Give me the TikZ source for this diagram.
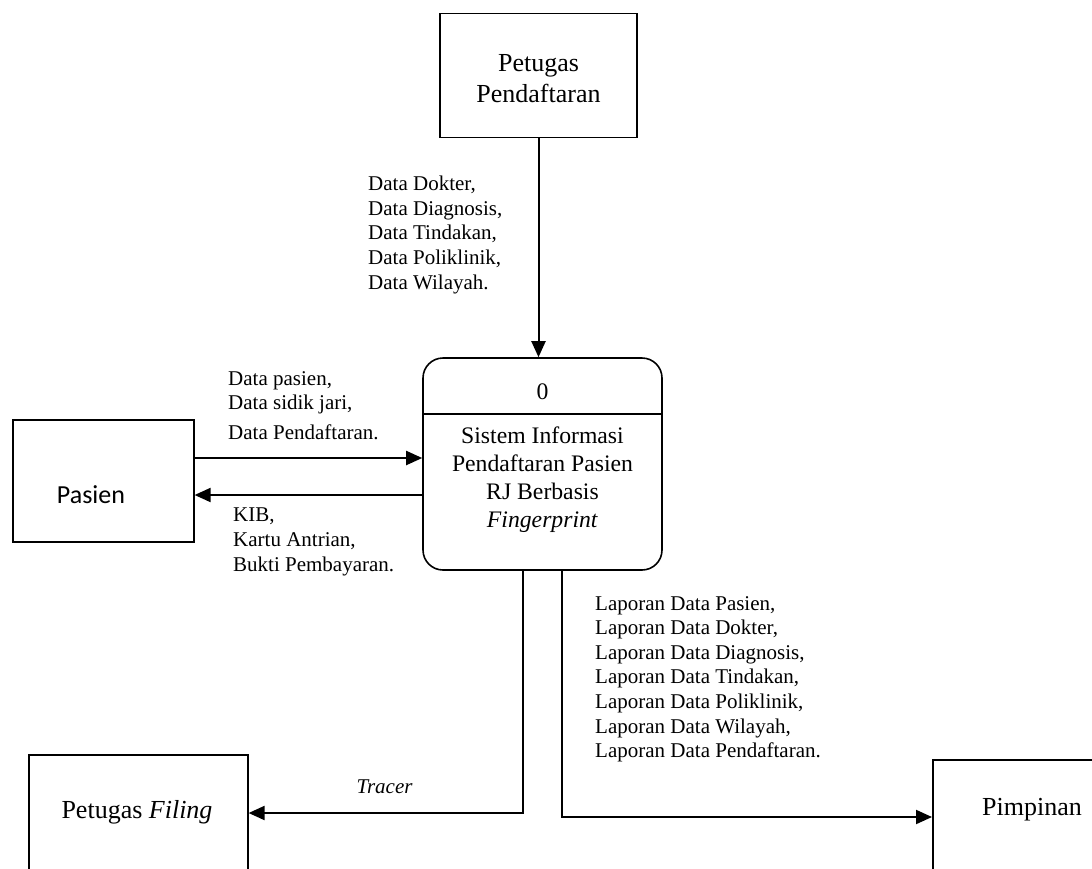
\documentclass[tikz,border=0pt]{standalone}
\usepackage{fontspec}
\setmainfont{Liberation Serif}
\newfontfamily\calibrifont{Carlito}
\usetikzlibrary{arrows.meta}
\begin{document}
\begin{tikzpicture}[x=1pt,y=-1pt,
  entity/.style={draw, line width=1.6pt, inner sep=0pt},
  bigtext/.style={font=\fontsize{26}{31}\selectfont, align=center, inner sep=0pt},
  proctext/.style={font=\fontsize{23.7}{28}\selectfont, align=center, inner sep=0pt},
  lbl/.style={font=\fontsize{21}{24.6}\selectfont, align=left, anchor=north west, inner sep=0pt},
  flow/.style={line width=2pt, -{Triangle[length=16pt,width=14pt]}},
]
\useasboundingbox (0,0) rectangle (1092,868);

% external entities
\node[entity, minimum width=197pt, minimum height=124pt] (pp) at (538.5,75.5) {};
\node[bigtext] (ppt) at (538.5,79) {Petugas\\Pendaftaran};

\node[entity, minimum width=181pt, minimum height=122pt, anchor=north west] (pas) at (12,419) {};
\node[font=\calibrifont\fontsize{26}{31}\selectfont, inner sep=0pt] (past) at (91,495) {Pasien};

\node[entity, minimum width=219pt, minimum height=125pt, anchor=north west] (fil) at (28,754) {};
\node[bigtext] (filt) at (137,812) {Petugas \textit{Filing}};

\node[entity, minimum width=180pt, minimum height=125pt, anchor=north west] (pim) at (932,759) {};
\node[bigtext] (pimt) at (1032,810) {Pimpinan};

% process
\node[draw, line width=1.6pt, rounded corners=20pt, minimum width=239pt, minimum height=212pt] (proc) at (542.5,464) {};
\draw[line width=1.6pt] (proc.west |- 0,414) -- (proc.east |- 0,414);
\node[proctext] (pnum) at (542.5,392) {0};
\node[proctext] (pname) at (542.5,480) {Sistem Informasi\\Pendaftaran Pasien\\RJ Berbasis\\\textit{Fingerprint}};

% flows
\draw[flow] (pp.south) -- (pp.south |- proc.north);
\draw[flow] (pas.east |- 0,458) -- (proc.west |- 0,458);
\draw[flow] (proc.west |- 0,495) -- (pas.east |- 0,495);
\coordinate (tr) at (523,813);
\draw[flow] (proc.south -| tr) -- (tr) -- (fil.east |- tr);
\coordinate (pr) at (562,817);
\draw[flow] (proc.south -| pr) -- (pr) -- (pim.west |- pr);

% labels
\node[lbl] (l1) at (368,176) {Data Dokter,\\Data Diagnosis,\\Data Tindakan,\\Data Poliklinik,\\Data Wilayah.};
\node[lbl] (l2) at (228,371) {Data pasien,\\Data sidik jari,\\[5pt]Data Pendaftaran.};
\node[lbl] (l3) at (233,508) {KIB,\\Kartu Antrian,\\Bukti Pembayaran.};
\node[lbl] (l4) at (595,596) {Laporan Data Pasien,\\Laporan Data Dokter,\\Laporan Data Diagnosis,\\Laporan Data Tindakan,\\Laporan Data Poliklinik,\\Laporan Data Wilayah,\\Laporan Data Pendaftaran.};
\node[font=\fontsize{21}{24.6}\selectfont\itshape, inner sep=0pt] (l5) at (384.5,787) {Tracer};
\end{tikzpicture}
\end{document}
